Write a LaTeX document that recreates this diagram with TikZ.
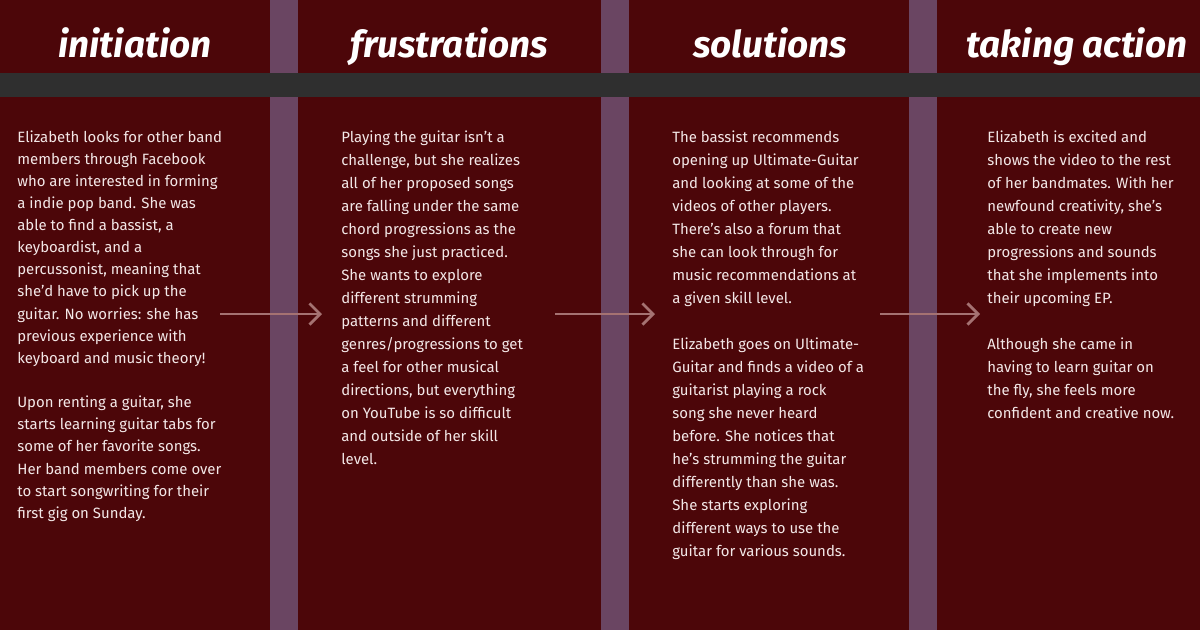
\documentclass[tikz,border=0pt]{standalone}
\usepackage{fontspec}
\setmainfont{Fira Sans}
\newfontfamily\headfont{Fira Sans}
\usetikzlibrary{arrows.meta}

\definecolor{wine}{HTML}{4C0609}
\definecolor{lilac}{HTML}{6A4562}
\definecolor{slate}{HTML}{2F2F2F}
\definecolor{rosy}{HTML}{A57272}
\definecolor{paper}{HTML}{F3E7E7}

\begin{document}
\begin{tikzpicture}[x=0.02cm, y=-0.02cm,
  heading/.style={anchor=base, inner sep=0pt, text=white,
    font=\headfont\itshape\bfseries\fontsize{21}{24}\selectfont},
  story/.style={anchor=north west, inner sep=0pt, align=left, text=paper,
    font=\fontsize{8.5}{13.1}\selectfont},
  flow/.style={draw=rosy, line width=1.6pt,
    -{Straight Barb[length=6pt, width=12pt, line width=1.6pt]}}]
  % background, stripes and band
  \fill[wine] (0,0) rectangle (1200,630);
  \fill[lilac] (270,0) rectangle (298,630);
  \fill[lilac] (601,0) rectangle (629,630);
  \fill[lilac] (909,0) rectangle (937,630);
  \fill[slate] (0,73) rectangle (1200,97);
  % headings
  \node[heading] (hInit) at (135,57) {initiation};
  \node[heading] (hFrus) at (449,57) {frustrations};
  \node[heading] (hSolv) at (770,57) {solutions};
  \node[heading] (hAct) at (1077,57) {taking action};
  % stories
  \node[story, font=\fontsize{8.5}{12.6}\selectfont] (tInit) at (17,130) {%
    Elizabeth looks for other band\\ members through Facebook\\
    who are interested in forming\\ a indie pop band. She was\\
    able to find a bassist, a\\ keyboardist, and a\\
    percussonist, meaning that\\ she’d have to pick up the\\
    guitar. No worries: she has\\ previous experience with\\
    keyboard and music theory!\\[12.6pt]
    Upon renting a guitar, she\\ starts learning guitar tabs for\\
    some of her favorite songs.\\ Her band members come over\\
    to start songwriting for their\\ first gig on Sunday.};
  \node[story] (tFrus) at (341,130) {%
    Playing the guitar isn’t a\\ challenge, but she realizes\\
    all of her proposed songs\\ are falling under the same\\
    chord progressions as the\\ songs she just practiced.\\
    She wants to explore\\ different strumming\\
    patterns and different\\ genres/progressions to get\\
    a feel for other musical\\ directions, but everything\\
    on YouTube is so difficult\\ and outside of her skill\\ level.};
  \node[story] (tSolv) at (672,130) {%
    The bassist recommends\\ opening up Ultimate-Guitar\\
    and looking at some of the\\ videos of other players.\\
    There’s also a forum that\\ she can look through for\\
    music recommendations at\\ a given skill level.\\[13.1pt]
    Elizabeth goes on Ultimate-\\ Guitar and finds a video of a\\
    guitarist playing a rock\\ song she never heard\\
    before. She notices that\\ he’s strumming the guitar\\
    differently than she was.\\ She starts exploring\\
    different ways to use the\\ guitar for various sounds.};
  \node[story] (tAct) at (987,130) {%
    Elizabeth is excited and\\ shows the video to the rest\\
    of her bandmates. With her\\ newfound creativity, she’s\\
    able to create new\\ progressions and sounds\\
    that she implements into\\ their upcoming EP.\\[13.1pt]
    Although she came in\\ having to learn guitar on\\
    the fly, she feels more\\ confident and creative now.};
  % arrows between the columns
  \coordinate (a1) at (220,314);
  \coordinate (b1) at (322,314);
  \coordinate (a2) at (555,314);
  \coordinate (b2) at (655,314);
  \coordinate (a3) at (880,314);
  \coordinate (b3) at (980,314);
  \draw[flow] (a1) -- (b1);
  \draw[flow] (a2) -- (b2);
  \draw[flow] (a3) -- (b3);
\end{tikzpicture}
\end{document}
